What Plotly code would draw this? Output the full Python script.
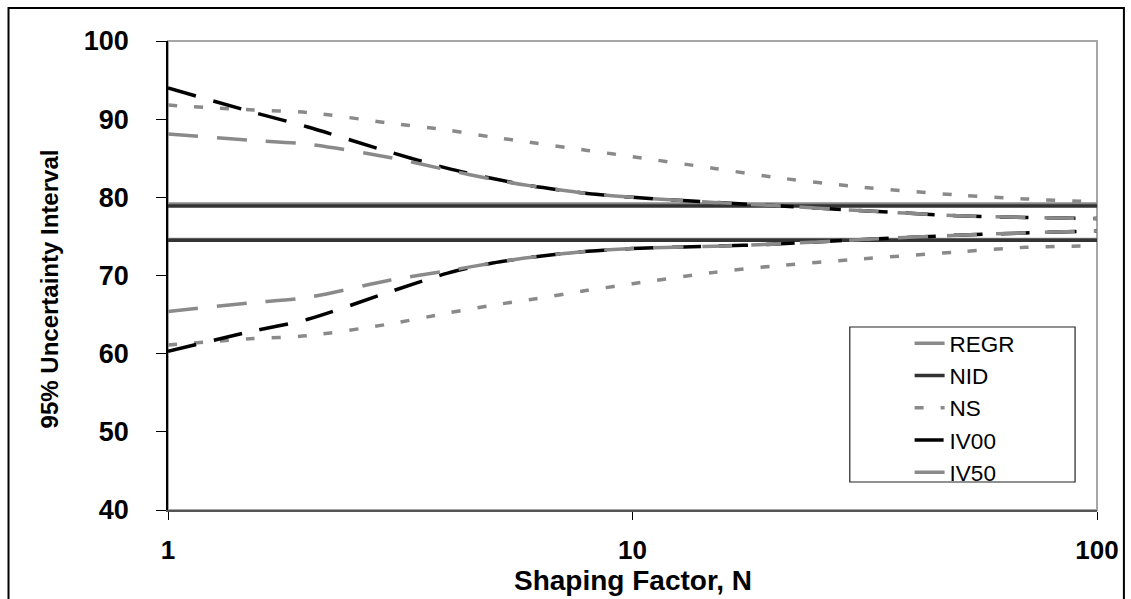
import plotly.graph_objects as go

# Shaping factor values at which the interval bounds were evaluated
shaping_n = [1, 1.5, 2, 3, 4, 5, 6, 8, 10, 15, 20, 30, 50, 70, 100]

# 95% uncertainty interval bounds (upper / lower) per method
ns_upper = [91.8, 91.2, 90.85, 89.5, 88.6, 87.7, 87.05, 86.0, 85.2, 83.7, 82.6, 81.4, 80.3, 79.8, 79.4]
ns_lower = [61.1, 61.9, 62.3, 63.8, 65.2, 66.2, 66.9, 68.1, 68.95, 70.4, 71.2, 72.05, 73.0, 73.6, 73.8]
iv00_upper = [94.0, 91.0, 89.0, 85.8, 83.7, 82.4, 81.5, 80.5, 80.0, 79.35, 78.95, 78.35, 77.65, 77.42, 77.3]
iv00_lower = [60.3, 62.8, 64.4, 67.9, 70.3, 71.6, 72.3, 73.1, 73.45, 73.75, 74.0, 74.55, 75.15, 75.45, 75.7]
iv50_upper = [88.1, 87.3, 86.8, 85.1, 83.5, 82.3, 81.5, 80.5, 80.0, 79.35, 78.95, 78.35, 77.65, 77.42, 77.3]
iv50_lower = [65.4, 66.5, 67.2, 69.4, 70.6, 71.6, 72.3, 73.1, 73.45, 73.75, 74.0, 74.55, 75.15, 75.45, 75.7]

# Methods whose bounds do not depend on N
flat_n = [1, 100]
regr_bounds = (79.15, 74.6)
nid_bounds = (78.9, 74.5)

y_ticks = [40, 50, 60, 70, 80, 90, 100]
x_ticks = [1, 10, 100]
x_tick_text = ["1", "10", "100"]

FONT = "Liberation Sans, Arial, Helvetica, sans-serif"
GRAY = "#8a8a8a"


def band(xs, upper, lower):
    """Join upper and lower bounds into one trace separated by a gap."""
    return list(xs) + [None] + list(xs), list(upper) + [None] + list(lower)


fig = go.Figure()

x, y = band(flat_n, [regr_bounds[0]] * 2, [regr_bounds[1]] * 2)
fig.add_trace(go.Scatter(x=x, y=y, mode="lines", name="REGR",
                         line=dict(color=GRAY, width=3.5)))
x, y = band(flat_n, [nid_bounds[0]] * 2, [nid_bounds[1]] * 2)
fig.add_trace(go.Scatter(x=x, y=y, mode="lines", name="NID",
                         line=dict(color="#333333", width=3.5)))
x, y = band(shaping_n, ns_upper, ns_lower)
fig.add_trace(go.Scatter(x=x, y=y, mode="lines", name="NS",
                         line=dict(color=GRAY, width=3.5, dash="9px,17px",
                                   shape="spline", smoothing=0.8)))
x, y = band(shaping_n, iv00_upper, iv00_lower)
fig.add_trace(go.Scatter(x=x, y=y, mode="lines", name="IV00",
                         line=dict(color="#000000", width=3.5, dash="29px,18px",
                                   shape="spline", smoothing=0.8)))
x, y = band(shaping_n, iv50_upper, iv50_lower)
fig.add_trace(go.Scatter(x=x, y=y, mode="lines", name="IV50",
                         line=dict(color=GRAY, width=3.5, dash="30px,19px",
                                   shape="spline", smoothing=0.8)))

# Pixel helpers for the frame / legend box (plot area spans 168..1100 x 41..510)
L, R, T, B = 168, 1100, 41, 510


def px(xp):
    return (xp - L) / (R - L)


def py(yp):
    return (B - yp) / (B - T)


shapes = [
    # plot-area border
    dict(type="rect", xref="paper", yref="paper", x0=0, x1=1, y0=0, y1=1,
         line=dict(color="#a6a6a6", width=2), layer="below"),
    # outer chart frame
    dict(type="rect", xref="paper", yref="paper", x0=px(8), x1=px(1127),
         y0=py(604), y1=py(8), line=dict(color="#000000", width=2)),
    # legend box
    dict(type="rect", xref="paper", yref="paper", x0=px(852), x1=px(1078),
         y0=py(482), y1=py(327), line=dict(color="#222222", width=1.2),
         fillcolor="white", layer="above"),
]

fig.update_layout(
    width=1131, height=599,
    margin=dict(l=L, r=1131 - R, t=T, b=599 - B),
    paper_bgcolor="white", plot_bgcolor="white",
    font=dict(family=FONT, color="#000000"),
    showlegend=True,
    legend=dict(x=px(912), y=py(322), xanchor="left", yanchor="top",
                bgcolor="rgba(0,0,0,0)", borderwidth=0,
                font=dict(family=FONT, size=22.5, color="#000000"),
                tracegroupgap=0),
    shapes=shapes,
    annotations=[
        dict(text="<b>95% Uncertainty Interval</b>", xref="paper", yref="paper",
             x=px(49), y=py(289), textangle=-90, showarrow=False,
             xanchor="center", yanchor="middle",
             font=dict(family=FONT, size=24, color="#000000")),
        dict(text="<b>Shaping Factor, N</b>", xref="paper", yref="paper",
             x=px(634), y=py(580), showarrow=False,
             xanchor="center", yanchor="middle",
             font=dict(family=FONT, size=28, color="#000000")),
    ],
)

fig.update_xaxes(type="log", range=[0, 2], tickvals=x_ticks, ticktext=x_tick_text,
                 showgrid=False, zeroline=False,
                 showline=True, linecolor="#555555", linewidth=2,
                 ticks="outside", ticklen=8, tickcolor="#000000", tickwidth=1,
                 ticklabelstandoff=8,
                 tickfont=dict(family=FONT, size=26, color="#000000", weight="bold"))
fig.update_yaxes(range=[40, 100], tickvals=y_ticks,
                 showgrid=False, zeroline=False,
                 showline=True, linecolor="#000000", linewidth=1.5,
                 ticks="outside", ticklen=10, tickcolor="#000000", tickwidth=1,
                 ticklabelstandoff=22,
                 tickfont=dict(family=FONT, size=27, color="#000000", weight="bold"))

fig.write_html("out.html")
